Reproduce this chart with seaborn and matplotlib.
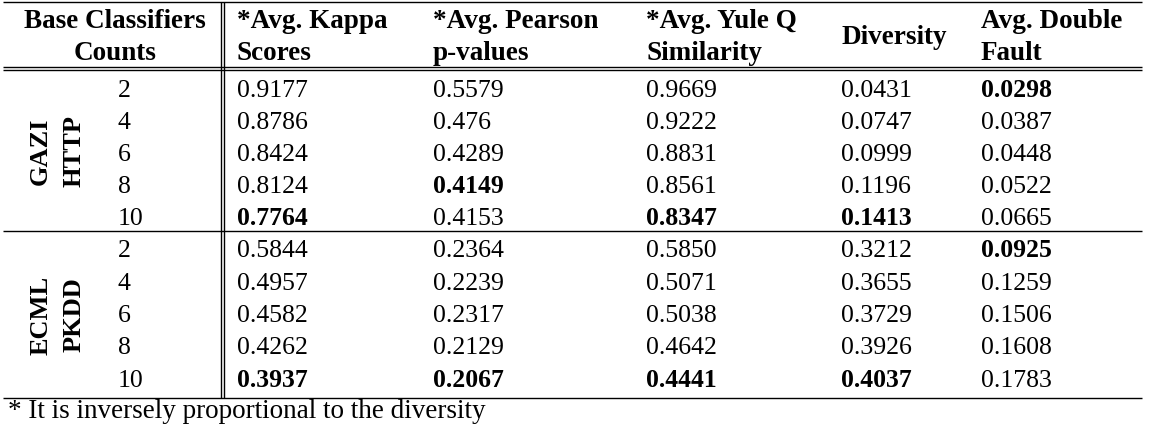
import matplotlib.pyplot as plt
import seaborn as sns
import pandas as pd

# %%
# table contents
counts = ['2', '4', '6', '8', '10']
datasets = ['GAZI\nHTTP', 'ECML\nPKDD']
first_header = 'Base Classifiers\nCounts'
headers = [
    '*Avg. Kappa\nScores',
    '*Avg. Pearson\np-values',
    '*Avg. Yule Q\nSimilarity',
    'Diversity',
    'Avg. Double\nFault',
]
footnote = '* It is inversely proportional to the diversity'

gazi_kappa = ['0.9177', '0.8786', '0.8424', '0.8124', '0.7764']
gazi_pearson = ['0.5579', '0.476', '0.4289', '0.4149', '0.4153']
gazi_yule = ['0.9669', '0.9222', '0.8831', '0.8561', '0.8347']
gazi_diversity = ['0.0431', '0.0747', '0.0999', '0.1196', '0.1413']
gazi_double = ['0.0298', '0.0387', '0.0448', '0.0522', '0.0665']

ecml_kappa = ['0.5844', '0.4957', '0.4582', '0.4262', '0.3937']
ecml_pearson = ['0.2364', '0.2239', '0.2317', '0.2129', '0.2067']
ecml_yule = ['0.5850', '0.5071', '0.5038', '0.4642', '0.4441']
ecml_diversity = ['0.3212', '0.3655', '0.3729', '0.3926', '0.4037']
ecml_double = ['0.0925', '0.1259', '0.1506', '0.1608', '0.1783']

# row index of the bold (best) value in each column
gazi_best = [4, 3, 4, 4, 0]
ecml_best = [4, 4, 4, 4, 0]

tables = [
    pd.DataFrame([gazi_kappa, gazi_pearson, gazi_yule, gazi_diversity, gazi_double]).T,
    pd.DataFrame([ecml_kappa, ecml_pearson, ecml_yule, ecml_diversity, ecml_double]).T,
]
best = [gazi_best, ecml_best]

# %%
# layout (pixel-like coordinates)
W, H = 1157, 435
col_x = [237, 433, 646, 841, 981]
count_x = 118
label_x = 57.5
header_base = 28.5
header_step = 31.5
group_base = [97, 257.5]
row_step = [32.0, 32.3]

sns.set_theme(style='white')
plt.rcParams['font.family'] = ['Liberation Serif', 'DejaVu Serif']

fig = plt.figure(figsize=(W / 100, H / 100), dpi=100)
ax = fig.add_axes([0, 0, 1, 1])
ax.set_xlim(0, W)
ax.set_ylim(H, 0)
ax.set_axis_off()

# rules
ax.hlines([2.7, 67.7, 70.7, 231.7, 399], 3, 1142, color='black', lw=1.0)
ax.vlines([221, 224], 2.7, 399, color='black', lw=1.0)

# header
for k, line in enumerate(first_header.split('\n')):
    ax.text(115, header_base + k * header_step, line, ha='center', va='baseline',
            fontsize=19.5, fontweight='bold', color='black')

for x, head in zip(col_x, headers):
    lines = head.split('\n')
    if len(lines) == 1:
        ax.text(x, header_base + header_step / 2, lines[0], ha='left', va='baseline',
                fontsize=19.5, fontweight='bold', color='black')
    else:
        for k, line in enumerate(lines):
            ax.text(x, header_base + k * header_step, line, ha='left', va='baseline',
                    fontsize=19.5, fontweight='bold', color='black')

# body
for g, (name, df) in enumerate(zip(datasets, tables)):
    ys = [group_base[g] + i * row_step[g] for i in range(len(counts))]
    mid = (ys[0] + ys[-1]) / 2 - (10 if g == 0 else 7)
    ax.text(label_x, mid, name, rotation=90, ha='center', va='center',
            fontsize=19, fontweight='bold', linespacing=1.6, color='black')
    for i, c in enumerate(counts):
        ax.text(count_x, ys[i], c, ha='left', va='baseline', fontsize=18.5, color='black')
        for j, x in enumerate(col_x):
            weight = 'bold' if best[g][j] == i else 'normal'
            ax.text(x, ys[i], df.iloc[i, j], ha='left', va='baseline',
                    fontsize=18.5, fontweight=weight, color='black')

ax.text(8, 418, footnote, ha='left', va='baseline', fontsize=19.5, color='black')

fig.savefig('out.png', dpi=100, facecolor='white')
